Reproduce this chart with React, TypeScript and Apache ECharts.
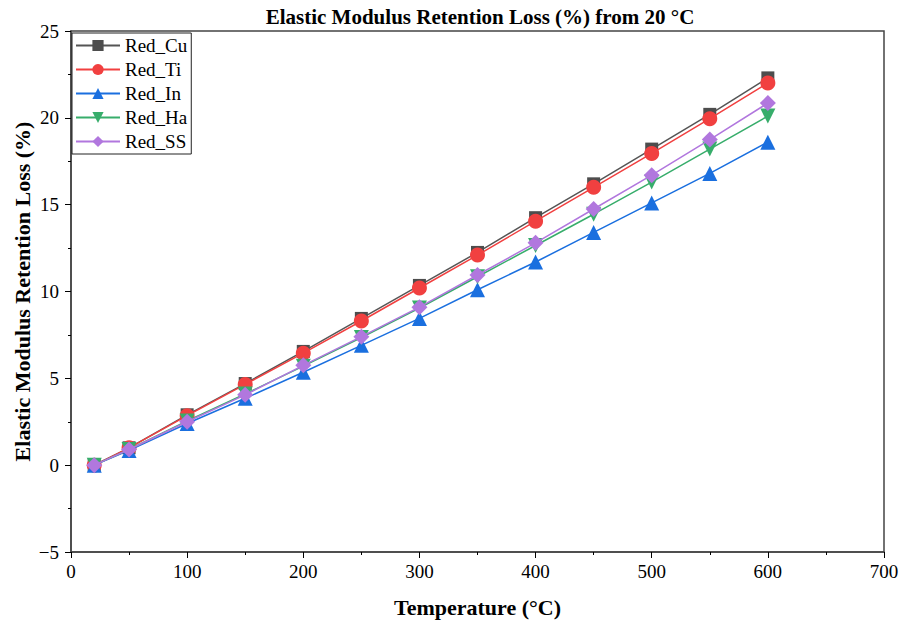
import React, { useEffect, useRef } from "react";
import * as echarts from "echarts";

const temps = [20, 50, 100, 150, 200, 250, 300, 350, 400, 450, 500, 550, 600];
const redCu = [0, 1.0, 2.9, 4.7, 6.55, 8.45, 10.35, 12.25, 14.25, 16.2, 18.2, 20.2, 22.3];
const redTi = [0, 1.0, 2.85, 4.65, 6.45, 8.3, 10.2, 12.1, 14.05, 16.0, 17.95, 19.95, 22.0];
const redIn = [0, 0.85, 2.4, 3.85, 5.35, 6.9, 8.45, 10.1, 11.7, 13.4, 15.1, 16.8, 18.6];
const redHa = [0, 0.9, 2.55, 4.1, 5.7, 7.35, 9.05, 10.85, 12.65, 14.45, 16.3, 18.2, 20.1];
const redSS = [0, 0.9, 2.5, 4.05, 5.75, 7.4, 9.1, 10.95, 12.8, 14.75, 16.7, 18.75, 20.85];

const seriesNames = ["Red_Cu", "Red_Ti", "Red_In", "Red_Ha", "Red_SS"];
const seriesData = [redCu, redTi, redIn, redHa, redSS];
const colors = ["#4d4d4d", "#f14040", "#1a6fdf", "#37ad6b", "#b177de"];
const lineColors = ["#555555", "#f14040", "#1a6fdf", "#37ad6b", "#b177de"];
const symbols = ["rect", "circle", "triangle", "triangle", "diamond"];
const symbolSizes = [13, 15, 15, 15, 16];
const symbolRotates = [0, 0, 0, 180, 0];

const FONT = "'Liberation Serif', 'Times New Roman', serif";

export default function App() {
  const ref = useRef<HTMLDivElement>(null);
  useEffect(() => {
    if (!ref.current) return;
    const chart = echarts.init(ref.current, null, { renderer: "svg" });
    const fmt = (v: number) => String(v).replace("-", "\u2212");
    chart.setOption({
      animation: false,
      backgroundColor: "#fff",
      textStyle: { fontFamily: FONT },
      title: {
        text: "Elastic Modulus Retention Loss (%) from 20 \u00b0C",
        left: 480,
        textAlign: "center",
        top: 6,
        padding: 0,
        textStyle: { fontFamily: FONT, fontWeight: "bold", fontSize: 21, color: "#000" },
      },
      legend: {
        orient: "vertical",
        left: 72,
        top: 33,
        itemWidth: 44,
        itemHeight: 14,
        itemGap: 5,
        padding: [3, 4, 3, 3],
        borderColor: "#222",
        borderWidth: 1,
        backgroundColor: "#fff",
        textStyle: { fontFamily: FONT, fontSize: 19, color: "#000" },
        data: seriesNames,
      },
      grid: {
        left: 71,
        right: 22,
        top: 31,
        bottom: 71,
        containLabel: false,
        outerBoundsMode: "none",
        show: true,
        borderColor: "#444",
        borderWidth: 1.5,
      },
      xAxis: {
        type: "value",
        min: 0,
        max: 700,
        interval: 100,
        name: "Temperature (\u00b0C)",
        nameLocation: "middle",
        nameGap: 44,
        nameMoveOverlap: false,
        nameTextStyle: { fontFamily: FONT, fontWeight: "bold", fontSize: 22, color: "#000" },
        axisLine: { onZero: false, lineStyle: { color: "#444", width: 1.5 } },
        axisTick: { show: true, length: 6, lineStyle: { color: "#000" } },
        minorTick: { show: true, splitNumber: 2, length: 3, lineStyle: { color: "#000" } },
        axisLabel: { fontFamily: FONT, fontSize: 19, color: "#000", margin: 10, formatter: fmt },
        splitLine: { show: false },
      },
      yAxis: {
        type: "value",
        min: -5,
        max: 25,
        interval: 5,
        name: "Elastic Modulus Retention Loss (%)",
        nameLocation: "middle",
        nameGap: 38,
        nameMoveOverlap: false,
        nameTextStyle: { fontFamily: FONT, fontWeight: "bold", fontSize: 22, color: "#000" },
        axisLine: { onZero: false, lineStyle: { color: "#444", width: 1.5 } },
        axisTick: { show: true, length: 6, lineStyle: { color: "#000" } },
        minorTick: { show: true, splitNumber: 2, length: 3, lineStyle: { color: "#000" } },
        axisLabel: { fontFamily: FONT, fontSize: 19, color: "#000", margin: 12, formatter: fmt },
        splitLine: { show: false },
      },
      series: seriesNames.map((name, i) => ({
        name,
        type: "line",
        data: temps.map((t, j) => [t, seriesData[i][j]]),
        symbol: symbols[i],
        symbolSize: symbolSizes[i],
        symbolRotate: symbolRotates[i],
        showAllSymbol: true,
        itemStyle: { color: colors[i] },
        lineStyle: { color: lineColors[i], width: 1.5 },
        z: 2 + i,
      })),
    });
    return () => chart.dispose();
  }, []);
  return (
    <div
      ref={ref}
      style={{ position: "absolute", left: 0, top: 0, width: 906, height: 623 }}
    />
  );
}
